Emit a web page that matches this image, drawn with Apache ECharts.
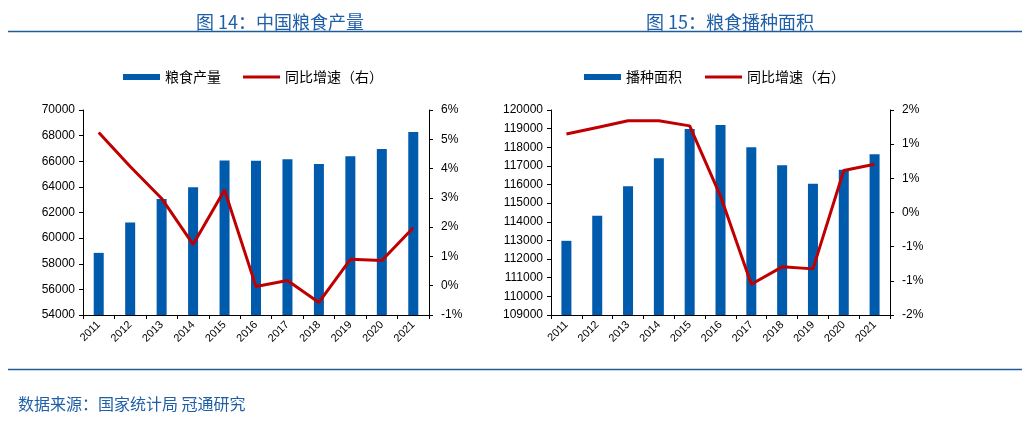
<!DOCTYPE html>
<html>
<head>
<meta charset="utf-8">
<script src="https://cdn.jsdelivr.net/npm/echarts@6/dist/echarts.min.js"></script>
<style>
html,body{margin:0;padding:0;background:#fff;}
#main{width:1028px;height:425px;}
</style>
</head>
<body>
<div id="main"></div>
<script>
const years = ['2011','2012','2013','2014','2015','2016','2017','2018','2019','2020','2021'];
const grainOutput = [58849, 61223, 63048, 63965, 66060, 66044, 66161, 65789, 66384, 66949, 68285];
const outputGrowth = [5.23, 4.07, 2.98, 1.41, 3.27, -0.03, 0.18, -0.57, 0.90, 0.86, 1.98];
const sownArea = [112980, 114329, 115903, 117406, 118980, 119195, 117996, 117030, 116047, 116798, 117621];
const areaGrowth = [1.53, 1.66, 1.79, 1.79, 1.69, 0.32, -1.40, -1.06, -1.10, 0.82, 0.94];
const titleLeft = '图 14：中国粮食产量';
const titleRight = '图 15：粮食播种面积';
const footer = '数据来源：国家统计局 冠通研究';

const BLUE = '#005BAC';
const RED = '#C00000';
const TITLE_BLUE = '#1F5FA8';
const cjk = '"Noto Sans CJK SC", "Noto Sans", sans-serif';
const num = '"Liberation Sans", Arial, sans-serif';

const chart = echarts.init(document.getElementById('main'));

function xAxis(gi){
  return {
    type:'category', gridIndex:gi, data:years, boundaryGap:true,
    axisLine:{onZero:false,lineStyle:{color:'#000',width:1}},
    axisTick:{show:true,alignWithLabel:false,length:4,lineStyle:{color:'#000'}},
    axisLabel:{rotate:45,color:'#000',fontSize:11,fontFamily:num,margin:8,interval:0}
  };
}
function yAxis(gi,pos,min,max,interval,fmt,margin){
  return {
    type:'value', gridIndex:gi, position:pos, min:min, max:max, interval:interval,
    splitLine:{show:false},
    axisLine:{show:true,lineStyle:{color:'#000',width:1}},
    axisTick:{show:true,length:4,lineStyle:{color:'#000'}},
    axisLabel:{color:'#000',fontSize:12,fontFamily:num,margin:margin,formatter:fmt}
  };
}
const legText = {fontSize:14,color:'#000',fontFamily:cjk};

const option = {
  backgroundColor:'#fff',
  animation:false,
  title:[
    {text:titleLeft,left:275,top:8,textAlign:'center',textStyle:{color:TITLE_BLUE,fontSize:18,fontWeight:'normal',fontFamily:cjk}},
    {text:titleRight,left:725,top:8,textAlign:'center',textStyle:{color:TITLE_BLUE,fontSize:18,fontWeight:'normal',fontFamily:cjk}},
    {text:footer,left:18,top:396,padding:0,textStyle:{color:TITLE_BLUE,fontSize:16,fontWeight:'normal',fontFamily:cjk}}
  ],
  graphic:[
    {type:'line',shape:{x1:8,y1:31.5,x2:1022,y2:31.5},style:{stroke:'#1F5C99',lineWidth:1.5}},
    {type:'line',shape:{x1:8,y1:369.5,x2:1022,y2:369.5},style:{stroke:'#1F5C99',lineWidth:1.5}}
  ],
  legend:[
    {data:[{name:'粮食产量',icon:'rect'}],left:118,top:65,itemWidth:37,itemHeight:6,textStyle:legText},
    {data:[{name:'同比增速（右）',icon:'rect'}],left:238,top:65,itemWidth:37,itemHeight:3,textStyle:legText},
    {data:[{name:'播种面积',icon:'rect'}],left:579,top:65,itemWidth:37,itemHeight:6,textStyle:legText},
    {data:[{name:'同比增速（右） ',icon:'rect'}],left:700,top:65,itemWidth:37,itemHeight:3,textStyle:legText,
      formatter:function(n){return n.trim();}}
  ],
  grid:[
    {left:83,right:599,top:110,bottom:110},
    {left:551,right:138,top:110,bottom:110}
  ],
  xAxis:[xAxis(0),xAxis(1)],
  yAxis:[
    yAxis(0,'left',54000,70000,2000,function(v){return String(v);},8),
    yAxis(0,'right',-1,6,1,function(v){return Math.round(v)+'%';},12),
    yAxis(1,'left',109000,120000,1000,function(v){return String(v);},8),
    yAxis(1,'right',-2,2,2/3,function(v){return Math.round(v)+'%';},12)
  ],
  series:[
    {name:'粮食产量',type:'bar',xAxisIndex:0,yAxisIndex:0,data:grainOutput,barWidth:10,itemStyle:{color:BLUE}},
    {name:'同比增速（右）',type:'line',xAxisIndex:0,yAxisIndex:1,data:outputGrowth,showSymbol:false,symbol:'none',
      lineStyle:{color:RED,width:3},itemStyle:{color:RED}},
    {name:'播种面积',type:'bar',xAxisIndex:1,yAxisIndex:2,data:sownArea,barWidth:10,itemStyle:{color:BLUE}},
    {name:'同比增速（右） ',type:'line',xAxisIndex:1,yAxisIndex:3,data:areaGrowth,showSymbol:false,symbol:'none',
      lineStyle:{color:RED,width:3},itemStyle:{color:RED}}
  ]
};
chart.setOption(option);
</script>
</body>
</html>
